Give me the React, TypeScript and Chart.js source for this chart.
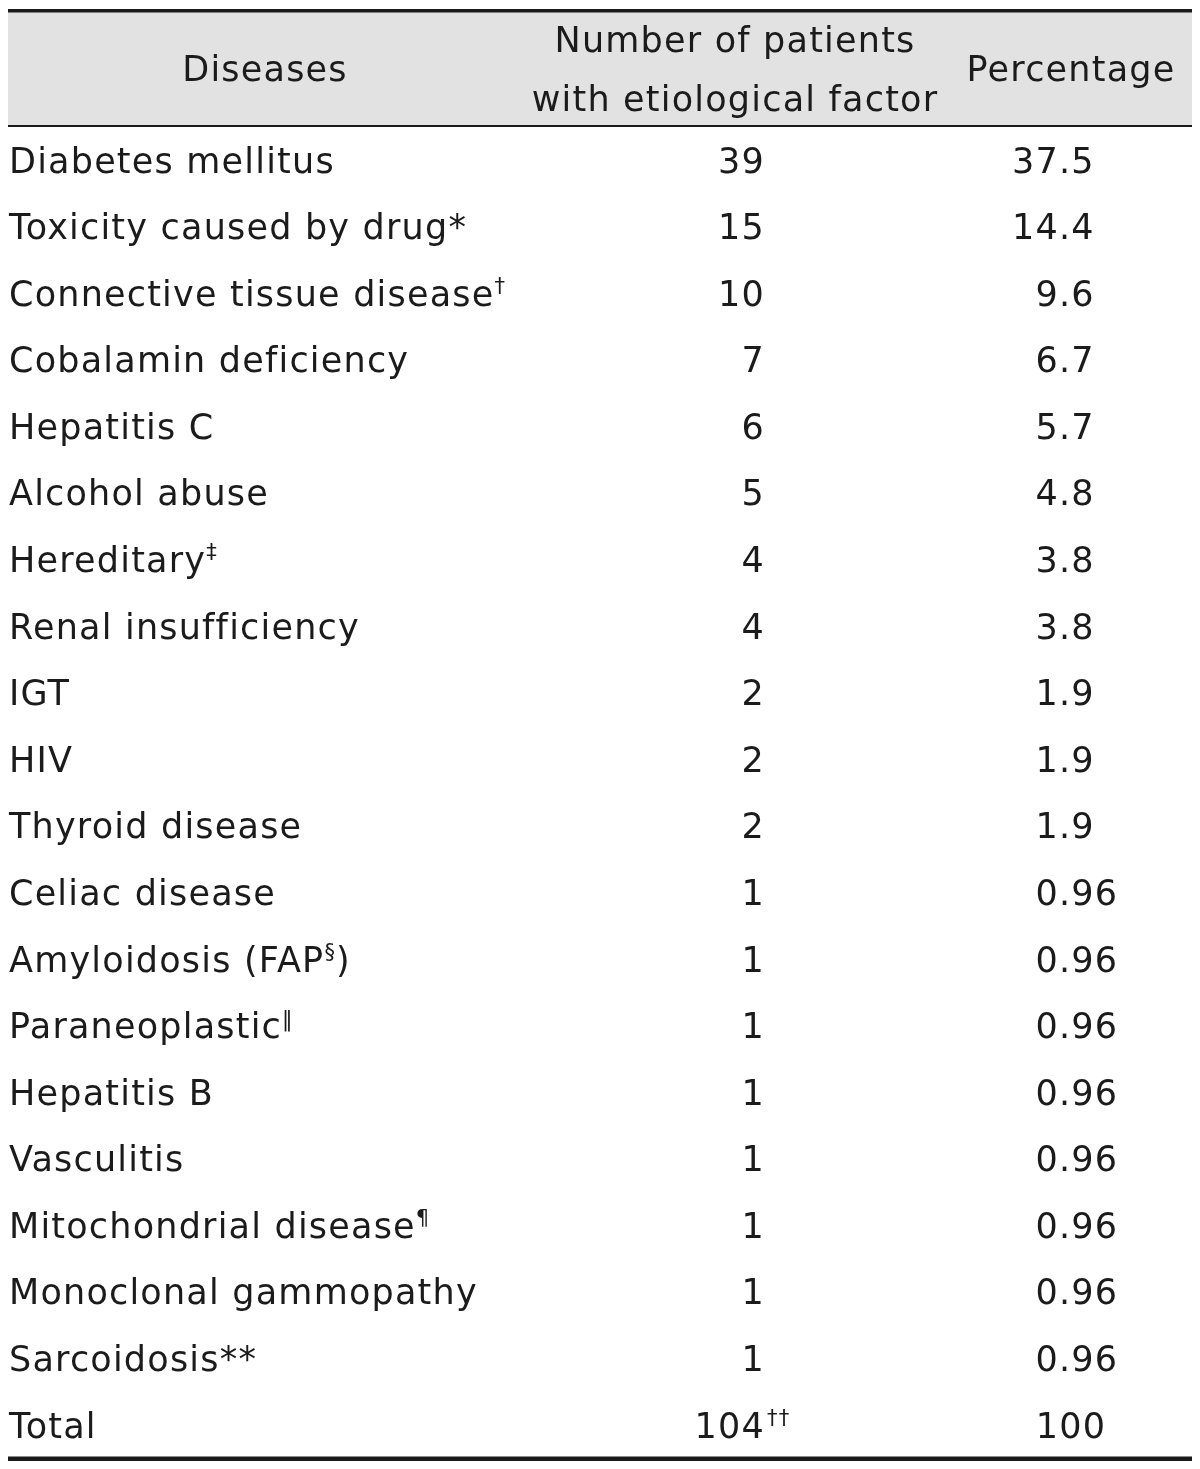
import { useEffect, useRef } from "react";
import { Chart, registerables } from "chart.js";

Chart.register(...registerables);

// ---- Data (superscript parts wrapped in ^...^) ----
const diseases = [
  "Diabetes mellitus",
  "Toxicity caused by drug*",
  "Connective tissue disease^†^",
  "Cobalamin deficiency",
  "Hepatitis C",
  "Alcohol abuse",
  "Hereditary^‡^",
  "Renal insufficiency",
  "IGT",
  "HIV",
  "Thyroid disease",
  "Celiac disease",
  "Amyloidosis (FAP^§^)",
  "Paraneoplastic^‖^",
  "Hepatitis B",
  "Vasculitis",
  "Mitochondrial disease^¶^",
  "Monoclonal gammopathy",
  "Sarcoidosis**",
  "Total",
];
const patients = [39, 15, 10, 7, 6, 5, 4, 4, 2, 2, 2, 1, 1, 1, 1, 1, 1, 1, 1, 104];
const patientNotes = ["", "", "", "", "", "", "", "", "", "", "", "", "", "", "", "", "", "", "", "††"];
const percentages = [37.5, 14.4, 9.6, 6.7, 5.7, 4.8, 3.8, 3.8, 1.9, 1.9, 1.9, 0.96, 0.96, 0.96, 0.96, 0.96, 0.96, 0.96, 0.96, 100];
const headerDiseases = "Diseases";
const headerPatients = ["Number of patients", "with etiological factor"];
const headerPercentage = "Percentage";

const FONT = '"DejaVu Sans", sans-serif';
const SIZE = 35;
const SPACING = "1.2px";
const TEXT = "#1b1b1b";

function drawRich(ctx: CanvasRenderingContext2D, s: string, x: number, y: number, align: "left" | "right" | "center") {
  const parts = s.split("^");
  const supSize = Math.round(SIZE * 0.6);
  const widths = parts.map((p, i) => {
    ctx.font = `${i % 2 ? supSize : SIZE}px ${FONT}`;
    return ctx.measureText(p).width;
  });
  const total = widths.reduce((a, b) => a + b, 0);
  let cx = align === "left" ? x : align === "right" ? x - total : x - total / 2;
  ctx.textAlign = "left";
  ctx.textBaseline = "alphabetic";
  parts.forEach((p, i) => {
    const sup = i % 2 === 1;
    ctx.font = `${sup ? supSize : SIZE}px ${FONT}`;
    ctx.fillText(p, cx, sup ? y - SIZE * 0.36 : y);
    cx += widths[i];
  });
}

const tablePlugin = {
  id: "tablePlugin",
  afterDraw(chart: any) {
    const ctx: CanvasRenderingContext2D = chart.ctx;
    const W = chart.width;
    const yScale = chart.scales.y;
    ctx.save();
    (ctx as any).letterSpacing = SPACING;
    // header background
    ctx.fillStyle = "#e2e2e2";
    ctx.fillRect(0, 4, W, 113);
    // rules
    ctx.fillStyle = "#1a1a1a";
    ctx.fillRect(0, 1, W, 3.5);
    ctx.fillRect(0, 117, W, 2);
    ctx.fillRect(0, 1448.5, W, 4.5);

    const colPatients = 757;
    const colPctCenter = 1063;
    const colDecimal = 1051;
    ctx.fillStyle = TEXT;
    // header
    const capHalf = SIZE * 0.36;
    drawRich(ctx, headerDiseases, 257, 60 + capHalf, "center");
    drawRich(ctx, headerPatients[0], 727, 31 + capHalf, "center");
    drawRich(ctx, headerPatients[1], 727, 90 + capHalf, "center");
    drawRich(ctx, headerPercentage, colPctCenter, 60 + capHalf, "center");

    diseases.forEach((d, i) => {
      const yc = yScale.getPixelForValue(i);
      const base = yc + capHalf;
      drawRich(ctx, d, 1, base, "left");
      const numStr = String(patients[i]);
      drawRich(ctx, numStr, colPatients, base, "right");
      if (patientNotes[i]) drawRich(ctx, "^" + patientNotes[i] + "^", colPatients + 2, base, "left");
      const p = String(percentages[i]);
      if (p.includes(".")) {
        const [ip, fp] = p.split(".");
        drawRich(ctx, ip, colDecimal, base, "right");
        drawRich(ctx, "." + fp, colDecimal, base, "left");
      } else {
        drawRich(ctx, p, colPctCenter, base, "center");
      }
    });
    ctx.restore();
  },
};

export default function App() {
  const ref = useRef<HTMLCanvasElement>(null);
  useEffect(() => {
    if (!ref.current) return;
    const chart = new Chart(ref.current, {
      type: "bar",
      data: {
        labels: diseases,
        datasets: [
          {
            label: "Number of patients",
            data: patients,
            backgroundColor: "rgba(0,0,0,0)",
            borderWidth: 0,
          },
        ],
      },
      options: {
        indexAxis: "y",
        animation: false,
        responsive: false,
        maintainAspectRatio: false,
        events: [],
        layout: { padding: { top: 118.7, bottom: 5.7, left: 0, right: 0 } },
        plugins: { legend: { display: false }, tooltip: { enabled: false } },
        scales: {
          x: { display: false, min: 0, max: 120 },
          y: { display: false, offset: true, grid: { display: false } },
        },
      },
      plugins: [tablePlugin],
    });
    return () => chart.destroy();
  }, []);
  return (
    <div style={{ width: 1184, height: 1456, background: "#fff" }}>
      <canvas ref={ref} width={1184} height={1456} style={{ display: "block" }} />
    </div>
  );
}
